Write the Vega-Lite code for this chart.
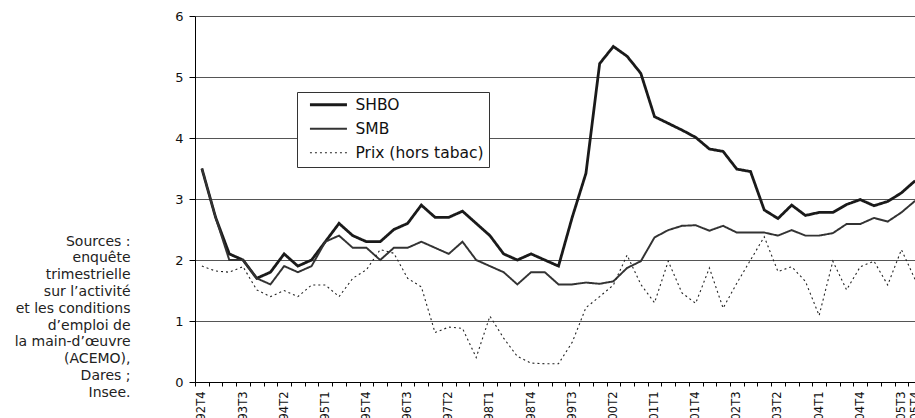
{
  "$schema": "https://vega.github.io/schema/vega-lite/v6.json",
  "width": 720,
  "height": 366,
  "autosize": {"type": "none"},
  "padding": {"left": 195, "top": 16, "right": 0, "bottom": 36},
  "background": "white",
  "config": {"view": {"stroke": null}, "font": "DejaVu Sans"},
  "data": {"values": [
    {"q": "92T4", "SHBO": 3.5, "SMB": 3.5, "Prix (hors tabac)": 1.9},
    {"q": "93T1", "SHBO": 2.7, "SMB": 2.7, "Prix (hors tabac)": 1.82},
    {"q": "93T2", "SHBO": 2.1, "SMB": 2.0, "Prix (hors tabac)": 1.8},
    {"q": "93T3", "SHBO": 2.0, "SMB": 2.0, "Prix (hors tabac)": 1.89},
    {"q": "93T4", "SHBO": 1.7, "SMB": 1.7, "Prix (hors tabac)": 1.51},
    {"q": "94T1", "SHBO": 1.8, "SMB": 1.6, "Prix (hors tabac)": 1.4},
    {"q": "94T2", "SHBO": 2.1, "SMB": 1.9, "Prix (hors tabac)": 1.5},
    {"q": "94T3", "SHBO": 1.9, "SMB": 1.8, "Prix (hors tabac)": 1.4},
    {"q": "94T4", "SHBO": 2.0, "SMB": 1.9, "Prix (hors tabac)": 1.59},
    {"q": "95T1", "SHBO": 2.3, "SMB": 2.3, "Prix (hors tabac)": 1.59},
    {"q": "95T2", "SHBO": 2.6, "SMB": 2.4, "Prix (hors tabac)": 1.4},
    {"q": "95T3", "SHBO": 2.4, "SMB": 2.2, "Prix (hors tabac)": 1.7},
    {"q": "95T4", "SHBO": 2.3, "SMB": 2.2, "Prix (hors tabac)": 1.84},
    {"q": "96T1", "SHBO": 2.3, "SMB": 2.0, "Prix (hors tabac)": 2.17},
    {"q": "96T2", "SHBO": 2.5, "SMB": 2.2, "Prix (hors tabac)": 2.11},
    {"q": "96T3", "SHBO": 2.6, "SMB": 2.2, "Prix (hors tabac)": 1.7},
    {"q": "96T4", "SHBO": 2.9, "SMB": 2.3, "Prix (hors tabac)": 1.56},
    {"q": "97T1", "SHBO": 2.7, "SMB": 2.2, "Prix (hors tabac)": 0.81},
    {"q": "97T2", "SHBO": 2.7, "SMB": 2.1, "Prix (hors tabac)": 0.9},
    {"q": "97T3", "SHBO": 2.8, "SMB": 2.3, "Prix (hors tabac)": 0.88},
    {"q": "97T4", "SHBO": 2.6, "SMB": 2.0, "Prix (hors tabac)": 0.4},
    {"q": "98T1", "SHBO": 2.4, "SMB": 1.9, "Prix (hors tabac)": 1.08},
    {"q": "98T2", "SHBO": 2.1, "SMB": 1.8, "Prix (hors tabac)": 0.72},
    {"q": "98T3", "SHBO": 2.0, "SMB": 1.6, "Prix (hors tabac)": 0.42},
    {"q": "98T4", "SHBO": 2.1, "SMB": 1.8, "Prix (hors tabac)": 0.31},
    {"q": "99T1", "SHBO": 2.0, "SMB": 1.8, "Prix (hors tabac)": 0.3},
    {"q": "99T2", "SHBO": 1.9, "SMB": 1.6, "Prix (hors tabac)": 0.3},
    {"q": "99T3", "SHBO": 2.7, "SMB": 1.6, "Prix (hors tabac)": 0.65},
    {"q": "99T4", "SHBO": 3.42, "SMB": 1.63, "Prix (hors tabac)": 1.22},
    {"q": "00T1", "SHBO": 5.22, "SMB": 1.61, "Prix (hors tabac)": 1.4},
    {"q": "00T2", "SHBO": 5.5, "SMB": 1.65, "Prix (hors tabac)": 1.59},
    {"q": "00T3", "SHBO": 5.34, "SMB": 1.87, "Prix (hors tabac)": 2.08},
    {"q": "00T4", "SHBO": 5.06, "SMB": 1.98, "Prix (hors tabac)": 1.6},
    {"q": "01T1", "SHBO": 4.35, "SMB": 2.37, "Prix (hors tabac)": 1.3},
    {"q": "01T2", "SHBO": 4.24, "SMB": 2.49, "Prix (hors tabac)": 1.98},
    {"q": "01T3", "SHBO": 4.13, "SMB": 2.56, "Prix (hors tabac)": 1.46},
    {"q": "01T4", "SHBO": 4.01, "SMB": 2.57, "Prix (hors tabac)": 1.29},
    {"q": "02T1", "SHBO": 3.82, "SMB": 2.48, "Prix (hors tabac)": 1.87},
    {"q": "02T2", "SHBO": 3.78, "SMB": 2.56, "Prix (hors tabac)": 1.21},
    {"q": "02T3", "SHBO": 3.49, "SMB": 2.45, "Prix (hors tabac)": 1.62},
    {"q": "02T4", "SHBO": 3.45, "SMB": 2.45, "Prix (hors tabac)": 2.0},
    {"q": "03T1", "SHBO": 2.82, "SMB": 2.45, "Prix (hors tabac)": 2.38},
    {"q": "03T2", "SHBO": 2.68, "SMB": 2.4, "Prix (hors tabac)": 1.81},
    {"q": "03T3", "SHBO": 2.9, "SMB": 2.49, "Prix (hors tabac)": 1.89},
    {"q": "03T4", "SHBO": 2.73, "SMB": 2.4, "Prix (hors tabac)": 1.65},
    {"q": "04T1", "SHBO": 2.78, "SMB": 2.4, "Prix (hors tabac)": 1.09},
    {"q": "04T2", "SHBO": 2.78, "SMB": 2.44, "Prix (hors tabac)": 1.98},
    {"q": "04T3", "SHBO": 2.91, "SMB": 2.59, "Prix (hors tabac)": 1.51},
    {"q": "04T4", "SHBO": 2.99, "SMB": 2.59, "Prix (hors tabac)": 1.89},
    {"q": "05T1", "SHBO": 2.89, "SMB": 2.69, "Prix (hors tabac)": 1.98},
    {"q": "05T2", "SHBO": 2.96, "SMB": 2.63, "Prix (hors tabac)": 1.59},
    {"q": "05T3", "SHBO": 3.1, "SMB": 2.78, "Prix (hors tabac)": 2.17},
    {"q": "05T4", "SHBO": 3.3, "SMB": 2.97, "Prix (hors tabac)": 1.68}
  ]},
  "transform": [
    {"fold": ["SHBO", "SMB", "Prix (hors tabac)"], "as": ["serie", "valeur"]}
  ],
  "mark": {"type": "line", "strokeCap": "butt", "strokeJoin": "miter"},
  "encoding": {
    "x": {
      "field": "q",
      "type": "ordinal",
      "sort": null,
      "bandPosition": 0.5,
      "scale": {"type": "band", "paddingInner": 0, "paddingOuter": 0, "range": [0, 727]},
      "axis": {
        "title": null,
        "grid": false,
        "domainColor": "#000000",
        "tickColor": "#000000",
        "tickSize": 4,
        "tickBand": "extent",
        "labelAngle": -90,
        "labelAlign": "right",
        "labelBaseline": "middle",
        "labelPadding": 5,
        "labelFontSize": 11.5,
        "labelColor": "#111111",
        "labelOverlap": false,
        "labelExpr": "indexof(['92T4','93T3','94T2','95T1','95T4','96T3','97T2','98T1','98T4','99T3','00T2','01T1','01T4','02T3','03T2','04T1','04T4','05T3','05T4'], datum.value) >= 0 ? datum.label : ''"
      }
    },
    "y": {
      "field": "valeur",
      "type": "quantitative",
      "scale": {"domain": [0, 6], "nice": false},
      "axis": {
        "values": [0, 1, 2, 3, 4, 5, 6],
        "grid": true,
        "gridColor": "#555555",
        "gridWidth": 1,
        "domainColor": "#000000",
        "tickColor": "#000000",
        "tickSize": 6,
        "labelPadding": 6,
        "labelFontSize": 13,
        "labelColor": "#111111",
        "title": ["Sources :", "enquête", "trimestrielle", "sur l’activité", "et les conditions", "d’emploi de", "la main-d’œuvre", "(ACEMO),", "Dares ;", "Insee."],
        "titleAngle": 0,
        "titleAlign": "right",
        "titleBaseline": "alphabetic",
        "titleX": -65,
        "titleY": 229,
        "titleFontSize": 14,
        "titleFontWeight": "normal",
        "titleLineHeight": 16.8,
        "titleColor": "#222222"
      }
    },
    "color": {
      "field": "serie",
      "type": "nominal",
      "scale": {"domain": ["SHBO", "SMB", "Prix (hors tabac)"], "range": ["#1a1a1a", "#333333", "#222222"]},
      "legend": {
        "orient": "none",
        "legendX": 102,
        "legendY": 76,
        "title": null,
        "fillColor": "white",
        "strokeColor": "#333333",
        "padding": 5,
        "symbolType": "M0.05,0H9.3",
        "symbolSize": 64,
        "labelFontSize": 15.5,
        "labelOffset": 38,
        "labelColor": "#111111",
        "rowPadding": 7
      }
    },
    "strokeWidth": {
      "field": "serie",
      "type": "nominal",
      "scale": {"domain": ["SHBO", "SMB", "Prix (hors tabac)"], "range": [2.8, 1.1, 1.3]}
    },
    "strokeDash": {
      "field": "serie",
      "type": "nominal",
      "scale": {"domain": ["SHBO", "SMB", "Prix (hors tabac)"], "range": [[1, 0], [1, 0], [2, 3]]}
    }
  }
}
